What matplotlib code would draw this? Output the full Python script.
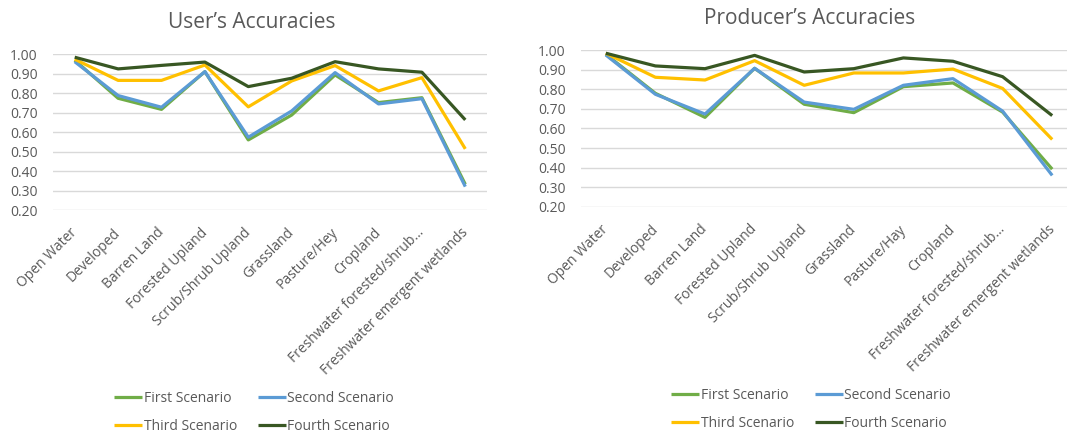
import numpy as np
import matplotlib
matplotlib.use("Agg")
import matplotlib.pyplot as plt
from matplotlib.transforms import ScaledTranslation

plt.rcParams['font.family'] = ['Open Sans', 'DejaVu Sans']

users_labels = ["Open Water", "Developed", "Barren Land", "Forested Upland",
                "Scrub/Shrub Upland", "Grassland", "Pasture/Hey", "Cropland",
                "Freshwater forested/shrub\u2026", "Freshwater emergent wetlands"]
producers_labels = ["Open Water", "Developed", "Barren Land", "Forested Upland",
                    "Scrub/Shrub Upland", "Grassland", "Pasture/Hay", "Cropland",
                    "Freshwater forested/shrub\u2026", "Freshwater emergent wetlands"]

scenarios = ["First Scenario", "Second Scenario", "Third Scenario", "Fourth Scenario"]
colors = ["#70AD47", "#5B9BD5", "#FFC000", "#385723"]

# user's accuracies per scenario
users_first = [0.970, 0.774, 0.717, 0.911, 0.560, 0.688, 0.894, 0.752, 0.777, 0.332]
users_second = [0.962, 0.788, 0.728, 0.911, 0.574, 0.709, 0.906, 0.745, 0.772, 0.320]
users_third = [0.975, 0.866, 0.866, 0.945, 0.730, 0.863, 0.942, 0.812, 0.880, 0.514]
users_fourth = [0.985, 0.925, 0.943, 0.960, 0.834, 0.877, 0.962, 0.925, 0.908, 0.663]

# producer's accuracies per scenario
prod_first = [0.980, 0.780, 0.657, 0.908, 0.724, 0.681, 0.814, 0.833, 0.684, 0.392]
prod_second = [0.976, 0.775, 0.674, 0.908, 0.735, 0.698, 0.821, 0.855, 0.689, 0.360]
prod_third = [0.985, 0.862, 0.848, 0.947, 0.821, 0.884, 0.884, 0.904, 0.805, 0.544]
prod_fourth = [0.985, 0.920, 0.906, 0.974, 0.889, 0.906, 0.961, 0.944, 0.865, 0.666]

W, H = 1067, 434
fig = plt.figure(figsize=(W / 100, H / 100), dpi=100)


def draw_panel(rect, labels, series, title, title_xy, legend_xy):
    # rect is (left, top, right, bottom) in pixels
    ax = fig.add_axes([rect[0] / W, 1 - rect[3] / H, (rect[2] - rect[0]) / W,
                       (rect[3] - rect[1]) / H])
    x = np.arange(len(labels))
    lines = []
    for vals, c, name in zip(series, colors, scenarios):
        ln, = ax.plot(x, vals, color=c, lw=2.3, label=name,
                      solid_joinstyle='round', solid_capstyle='butt')
        lines.append(ln)
    ax.set_xlim(-0.5, len(labels) - 0.5)
    ax.set_ylim(0.2, 1.0)
    yt = np.arange(0.2, 1.001, 0.1)
    ax.set_yticks(yt)
    ax.set_yticklabels([f"{v:.2f}" for v in yt])
    ax.grid(axis='y', color='#D9D9D9', lw=1)
    ax.set_axisbelow(True)
    for s in ax.spines.values():
        s.set_visible(False)
    ax.tick_params(axis='both', length=0, colors='#595959', labelsize=10)
    ax.tick_params(axis='y', pad=11)
    ax.set_xticks(x)
    ax.set_xticklabels(labels, rotation=45, ha='right', va='top',
                       rotation_mode='anchor', color='#595959')
    ax.tick_params(axis='x', pad=11)
    # nudge the slanted labels so their ends sit under the points
    shift = ScaledTranslation(-5 / 100, 0, fig.dpi_scale_trans)
    for lab in ax.get_xticklabels():
        lab.set_transform(lab.get_transform() + shift)
    fig.text(title_xy[0] / W, 1 - title_xy[1] / H, title, ha='center',
             va='center', fontsize=15, color='#595959')
    order = [0, 2, 1, 3]
    fig.legend([lines[i] for i in order], [scenarios[i] for i in order],
               loc='center', bbox_to_anchor=(legend_xy[0] / W, 1 - legend_xy[1] / H),
               ncol=2, frameon=False, fontsize=10, handlelength=2.0,
               handletextpad=0.1, columnspacing=1.5, labelspacing=0.95,
               labelcolor='#595959')
    return ax


draw_panel((53, 54.3, 487, 210), users_labels,
           [users_first, users_second, users_third, users_fourth],
           "User\u2019s Accuracies", (252, 23), (254, 412.5))
draw_panel((581, 50.3, 1077, 206.7), producers_labels,
           [prod_first, prod_second, prod_third, prod_fourth],
           "Producer\u2019s Accuracies", (810, 19), (811, 409.5))

fig.savefig("out.png", dpi=100)
